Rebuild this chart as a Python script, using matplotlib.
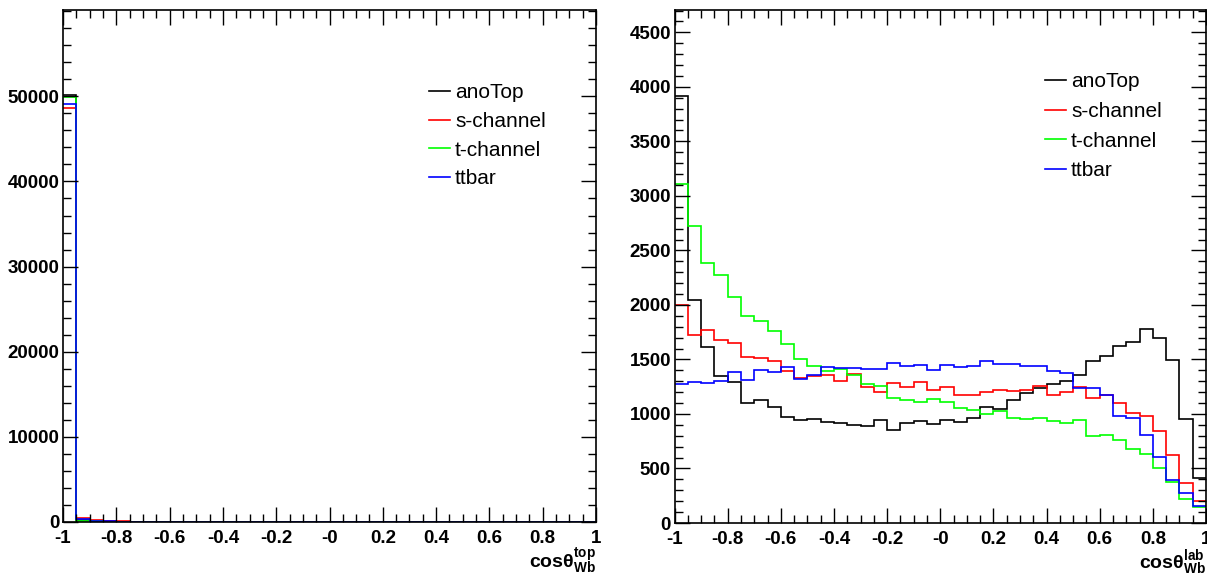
import numpy as np
import matplotlib
matplotlib.use("Agg")
import matplotlib.pyplot as plt
from matplotlib.ticker import MultipleLocator, FixedLocator, FixedFormatter
from matplotlib.lines import Line2D

plt.rcParams['font.family'] = ['Liberation Sans', 'DejaVu Sans']
plt.rcParams['mathtext.fontset'] = 'custom'
plt.rcParams['mathtext.rm'] = 'Liberation Sans:bold'
plt.rcParams['mathtext.it'] = 'Liberation Sans:bold'
plt.rcParams['mathtext.bf'] = 'Liberation Sans:bold'
plt.rcParams['mathtext.default'] = 'bf'

# ---------------- data ----------------
series_names = ["anoTop", "s-channel", "t-channel", "ttbar"]
series_colors = ["#000000", "#ff0000", "#00ff00", "#0000ff"]
n_bins = 40
x_min, x_max = -1.0, 1.0

# left panel: cos theta_Wb (top frame)
top_anoTop = [50100, 200, 100, 60, 30, 20, 15, 10, 8, 6, 5, 4, 3, 3, 2, 2, 2, 1, 1, 1,
              1, 1, 1, 1, 1, 1, 0, 0, 0, 0, 0, 0, 0, 0, 0, 0, 0, 0, 0, 0]
top_schannel = [48630, 510, 270, 160, 60, 40, 30, 20, 15, 12, 10, 8, 6, 5, 4, 4, 3, 3, 2, 2,
                2, 2, 1, 1, 1, 1, 1, 1, 0, 0, 0, 0, 0, 0, 0, 0, 0, 0, 0, 0]
top_tchannel = [49950, 120, 60, 30, 20, 15, 10, 8, 6, 5, 4, 3, 3, 2, 2, 2, 1, 1, 1, 1,
                1, 1, 1, 0, 0, 0, 0, 0, 0, 0, 0, 0, 0, 0, 0, 0, 0, 0, 0, 0]
top_ttbar = [49060, 300, 130, 80, 40, 30, 20, 15, 12, 10, 8, 6, 5, 4, 3, 3, 2, 2, 2, 1,
             1, 1, 1, 1, 1, 1, 0, 0, 0, 0, 0, 0, 0, 0, 0, 0, 0, 0, 0, 0]

# right panel: cos theta_Wb (lab frame)
lab_anoTop = [3920, 2046, 1615, 1345, 1297, 1098, 1128, 1067, 975, 945,
              957, 924, 914, 899, 890, 945, 853, 914, 939, 905,
              945, 924, 960, 1067, 1043, 1128, 1190, 1235, 1275, 1306,
              1358, 1486, 1532, 1624, 1660, 1777, 1700, 1495, 957, 410]
lab_schannel = [2000, 1722, 1768, 1679, 1648, 1526, 1514, 1489, 1391, 1327,
                1349, 1361, 1306, 1364, 1245, 1205, 1281, 1245, 1294, 1220,
                1245, 1171, 1171, 1205, 1217, 1208, 1223, 1254, 1177, 1205,
                1245, 1150, 1174, 1098, 1006, 982, 841, 627, 364, 202]
lab_tchannel = [3107, 2728, 2382, 2275, 2070, 1899, 1856, 1765, 1645, 1505,
                1440, 1398, 1410, 1361, 1278, 1260, 1144, 1128, 1107, 1138,
                1110, 1058, 1037, 997, 1030, 966, 954, 963, 939, 914,
                945, 798, 810, 758, 676, 633, 508, 379, 220, 150]
lab_ttbar = [1278, 1290, 1284, 1303, 1382, 1312, 1401, 1385, 1428, 1324,
             1358, 1428, 1425, 1422, 1416, 1413, 1465, 1443, 1446, 1404,
             1450, 1434, 1443, 1486, 1462, 1459, 1440, 1443, 1398, 1373,
             1235, 1235, 1174, 982, 960, 807, 609, 394, 272, 156]

x_tick_values = [-1, -0.8, -0.6, -0.4, -0.2, 0, 0.2, 0.4, 0.6, 0.8, 1]
x_tick_labels = ["-1", "-0.8", "-0.6", "-0.4", "-0.2", "-0", "0.2", "0.4", "0.6", "0.8", "1"]
top_y_ticks = [0, 10000, 20000, 30000, 40000, 50000]
lab_y_ticks = [0, 500, 1000, 1500, 2000, 2500, 3000, 3500, 4000, 4500]

top_series = [top_anoTop, top_schannel, top_tchannel, top_ttbar]
lab_series = [lab_anoTop, lab_schannel, lab_tchannel, lab_ttbar]

# ---------------- figure ----------------
W, H = 1207, 575
fig = plt.figure(figsize=(W / 100, H / 100), dpi=100)
fig.patch.set_facecolor("white")

edges = np.linspace(x_min, x_max, n_bins + 1)


def px_axes(l, t, r, b):
    return fig.add_axes([l / W, 1 - b / H, (r - l) / W, (b - t) / H])


def style_axes(ax, yticks, ymax, yminor, xlabel_tex):
    ax.set_xlim(x_min, x_max)
    ax.set_ylim(0, ymax)
    ax.xaxis.set_major_locator(FixedLocator(x_tick_values))
    ax.xaxis.set_major_formatter(FixedFormatter(x_tick_labels))
    ax.xaxis.set_minor_locator(MultipleLocator(0.05))
    ax.yaxis.set_major_locator(FixedLocator(yticks))
    ax.yaxis.set_major_formatter(FixedFormatter([str(v) for v in yticks]))
    ax.yaxis.set_minor_locator(MultipleLocator(yminor))
    ax.tick_params(which="both", direction="in", top=True, right=True,
                   color="black", width=1.0)
    ax.tick_params(which="major", length=11)
    ax.tick_params(which="minor", length=5.5)
    ax.tick_params(axis="x", which="major", pad=6, labelsize=13.5)
    ax.tick_params(axis="y", which="major", pad=2.5, labelsize=13.5)
    for lab in ax.get_xticklabels() + ax.get_yticklabels():
        lab.set_fontweight("bold")
    for sp in ax.spines.values():
        sp.set_linewidth(1.2)
        sp.set_color("black")
    ax.text(1.0, -0.049, xlabel_tex, transform=ax.transAxes, ha="right",
            va="top", fontsize=14, fontweight="bold")


def draw_hists(ax, series):
    for vals, col in zip(series, series_colors):
        ax.stairs(vals, edges, color=col, linewidth=1.2, baseline=None)


def add_legend(ax, left_px, top_px, spacing):
    handles = [Line2D([], [], color=c, linewidth=1.2) for c in series_colors]
    ax.legend(handles, series_names, loc="upper left",
              bbox_to_anchor=(left_px / W, 1 - top_px / H),
              bbox_transform=fig.transFigure, frameon=False, fontsize=15,
              handlelength=1.0, handletextpad=0.25, borderpad=0,
              borderaxespad=0, labelspacing=spacing)


ax1 = px_axes(63, 10, 596, 522)
draw_hists(ax1, top_series)
style_axes(ax1, top_y_ticks, 60140, 2000, r"$cos\theta^{top}_{Wb}$")
add_legend(ax1, 429, 83, 0.47)

ax2 = px_axes(674.5, 10, 1206, 523)
draw_hists(ax2, lab_series)
style_axes(ax2, lab_y_ticks, 4705, 100, r"$cos\theta^{lab}_{Wb}$")
add_legend(ax2, 1045, 72, 0.52)

fig.savefig("out.png", dpi=100, facecolor="white")
